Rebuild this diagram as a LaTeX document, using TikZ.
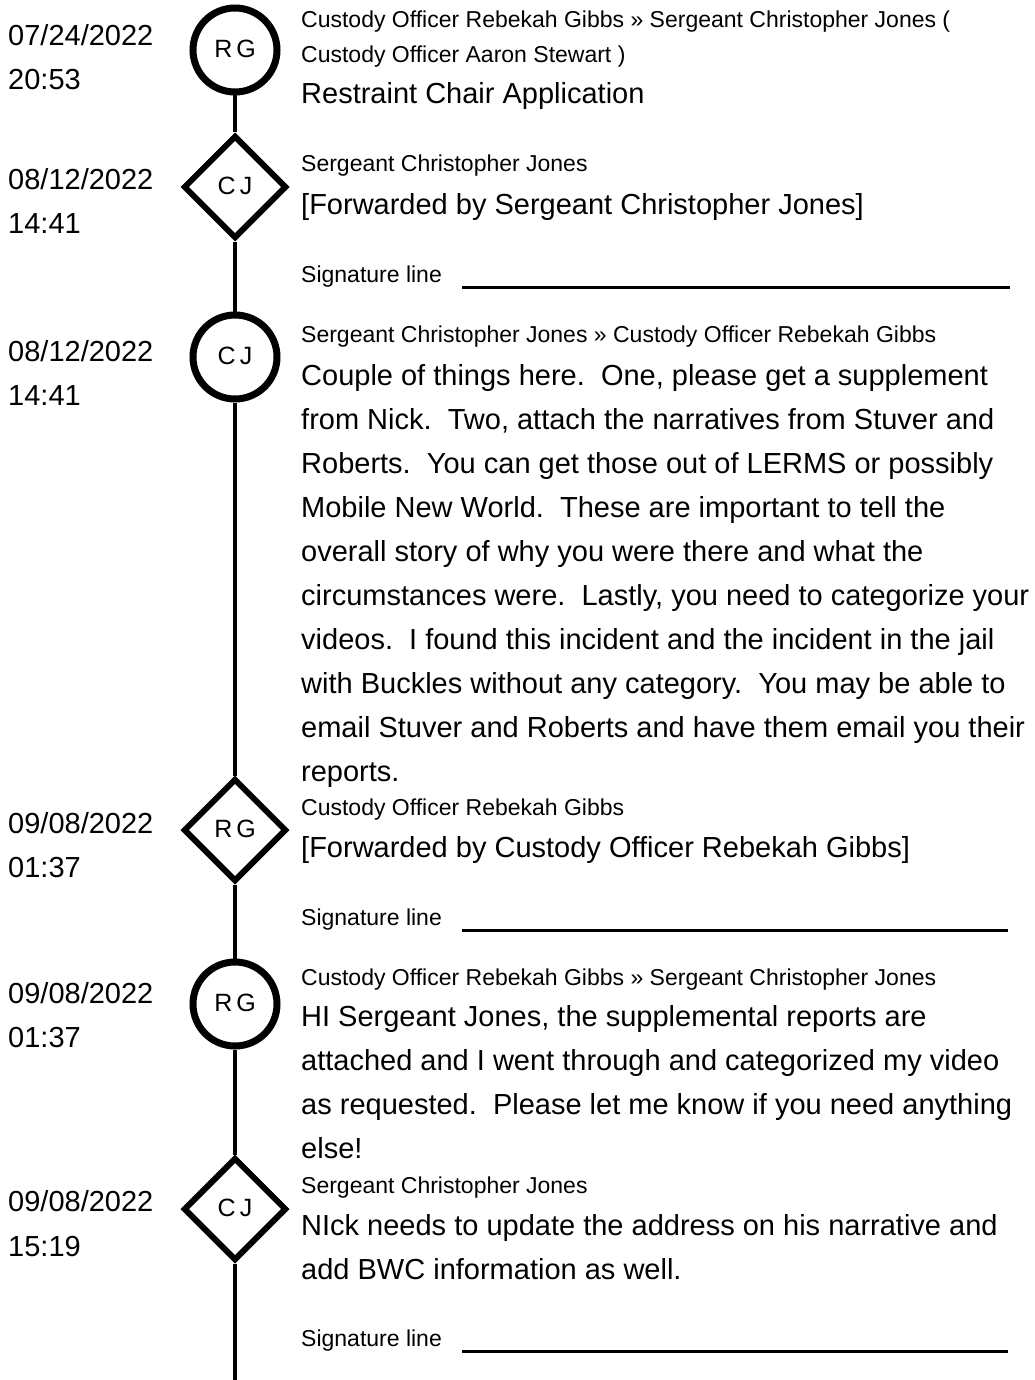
\documentclass[tikz,border=0pt]{standalone}
\usepackage{fontspec}
\setmainfont{Liberation Sans}
\newfontfamily\initfont{Liberation Sans}[LetterSpace=16]
\usetikzlibrary{shapes.geometric}

\tikzset{
    when/.style={anchor=base west, inner sep=0pt, font=\fontsize{29}{44}\selectfont},
    who/.style={anchor=base west, inner sep=0pt, font=\fontsize{23}{35}\selectfont},
    msg/.style={anchor=base west, inner sep=0pt, font=\fontsize{29}{44}\selectfont},
    sent/.style={circle, draw, line width=7pt, minimum size=84pt, inner sep=0pt, fill=white, font=\initfont\fontsize{25}{25}\selectfont},
    fwd/.style={diamond, draw, line width=6pt, minimum width=103pt, minimum height=103pt, inner sep=0pt, fill=white, font=\initfont\fontsize{25}{25}\selectfont},
    sigline/.style={line width=3pt},
    track/.style={line width=4pt}
}

\begin{document}
\begin{tikzpicture}[x=1pt, y=-1pt]
    \useasboundingbox (0, 0) rectangle (1034, 1380);

    \node (rg1) at (235, 50) [sent] {\raisebox{3pt}{RG}};
    \node (cj1) at (235, 187) [fwd] {\raisebox{3pt}{CJ}};
    \node (cj2) at (235, 357) [sent] {\raisebox{3pt}{CJ}};
    \node (rg2) at (235, 830) [fwd] {\raisebox{3pt}{RG}};
    \node (rg3) at (235, 1004) [sent] {\raisebox{3pt}{RG}};
    \node (cj3) at (235, 1209) [fwd] {\raisebox{3pt}{CJ}};
    \coordinate (end) at (235, 1380);

    \draw[track] (rg1) -- (cj1) -- (cj2) -- (rg2) -- (rg3) -- (cj3) -- (end);

    \node (d1) at (8, 46) [when] {07/24/2022};
    \node (t1) at (8, 90) [when] {20:53};
    \node (d2) at (8, 190) [when] {08/12/2022};
    \node (t2) at (8, 234) [when] {14:41};
    \node (d3) at (8, 361) [when] {08/12/2022};
    \node (t3) at (8, 405) [when] {14:41};
    \node (d4) at (8, 833) [when] {09/08/2022};
    \node (t4) at (8, 877) [when] {01:37};
    \node (d5) at (8, 1003) [when] {09/08/2022};
    \node (t5) at (8, 1047) [when] {01:37};
    \node (d6) at (8, 1211) [when] {09/08/2022};
    \node (t6) at (8, 1256) [when] {15:19};

    \node (w1) at (301, 28) [who] {Custody Officer Rebekah Gibbs » Sergeant Christopher Jones (};
    \node (w1b) at (301, 63) [who] {Custody Officer Aaron Stewart )};
    \node (m1) at (301, 104) [msg] {Restraint Chair Application};

    \node (w2) at (301, 172) [who] {Sergeant Christopher Jones};
    \node (m2) at (301, 215) [msg] {[Forwarded by Sergeant Christopher Jones]};
    \node (s2) at (301, 282) [who] {Signature line};
    \draw[sigline] (462, 287) -- (1010, 287);

    \node (w3) at (301, 342) [who] {Sergeant Christopher Jones » Custody Officer Rebekah Gibbs};
    \foreach \txt [count=\i from 0] in {
        {Couple of things here.\ \ One, please get a supplement},
        {from Nick.\ \ Two, attach the narratives from Stuver and},
        {Roberts.\ \ You can get those out of LERMS or possibly},
        {Mobile New World.\ \ These are important to tell the},
        {overall story of why you were there and what the},
        {circumstances were.\ \ Lastly, you need to categorize your},
        {videos.\ \ I found this incident and the incident in the jail},
        {with Buckles without any category.\ \ You may be able to},
        {email Stuver and Roberts and have them email you their},
        {reports.}}
        \node (m3-\i) at (301, 385+44*\i) [msg] {\txt};

    \node (w4) at (301, 815) [who] {Custody Officer Rebekah Gibbs};
    \node (m4) at (301, 857) [msg] {[Forwarded by Custody Officer Rebekah Gibbs]};
    \node (s4) at (301, 925) [who] {Signature line};
    \draw[sigline] (462, 930) -- (1008, 930);

    \node (w5) at (301, 985) [who] {Custody Officer Rebekah Gibbs » Sergeant Christopher Jones};
    \foreach \txt [count=\i from 0] in {
        {HI Sergeant Jones, the supplemental reports are},
        {attached and I went through and categorized my video},
        {as requested.\ \ Please let me know if you need anything},
        {else!}}
        \node (m5-\i) at (301, 1026+44*\i) [msg] {\txt};

    \node (w6) at (301, 1193) [who] {Sergeant Christopher Jones};
    \node (m6-0) at (301, 1235) [msg] {NIck needs to update the address on his narrative and};
    \node (m6-1) at (301, 1279) [msg] {add BWC information as well.};
    \node (s6) at (301, 1346) [who] {Signature line};
    \draw[sigline] (462, 1351) -- (1008, 1351);
\end{tikzpicture}
\end{document}
